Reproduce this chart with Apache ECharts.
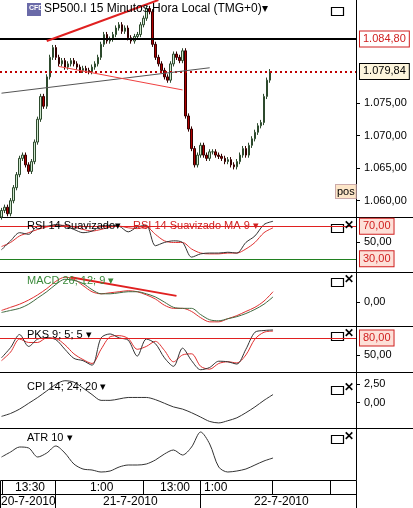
<!DOCTYPE html>
<html><head><meta charset="utf-8">
<script src="https://cdn.jsdelivr.net/npm/echarts@6/dist/echarts.min.js"></script>
<style>html,body{margin:0;padding:0;background:#fff}#c{width:413px;height:508px}</style>
</head><body><div id="c"></div>
<script>
const closes=[1058.5,1059,1058,1060,1062,1064,1066.5,1067,1065.5,1064.5,1066,1069,1072.5,1076,1074.5,1079,1082,1083.5,1082,1081,1081.5,1080.5,1081,1081.5,1081,1080.5,1080,1080.3,1080,1079.8,1080.5,1081,1082,1084,1085.5,1084.5,1084.8,1085.5,1086.5,1087,1086,1086.5,1085,1084.5,1085.2,1085.5,1087,1088,1089.5,1089,1084,1082,1081,1080,1079,1078.5,1081,1082.5,1082,1081.5,1083,1073,1071,1068,1065.5,1067,1068.5,1067,1066.5,1067.5,1067.5,1067,1066.8,1066.5,1066,1066.3,1065.5,1065.2,1066,1067,1068,1067,1068.5,1069.5,1070.5,1071.5,1072,1076,1078.5,1079.8];
const firstOpen=1057.5;
const rsiK=[41,52,62,60,70,70,72,70,66,62,64,70,71,70,63,69,71,46,50,52,50,32,36,37,37,38,37,50,58,72,76];
const rsiMA=[45,50,58,62,66,69,71,71,69,66,64,66,69,70,68,67,69,60,52,50,50,42,37,36,36,37,37,42,50,62,68];
const macdA=[-10,-8,-6,-2,4,10,17,22,21,18,12,8,8,9,10,10,8,5,0,-5,-6,-6,-12,-17,-18,-16,-14,-11,-7,-2,5];
const macdB=[-8,-5,-2,2,7,13,20,24,22,16,10,8,9,10,11,10,7,3,-3,-6,-6,-9,-15,-19,-19,-16,-13,-9,-5,1,10];
const pksK=[45,63,86,65,78,80,77,60,44,40,32,80,87,80,76,48,78,70,45,30,62,40,24,28,39,38,34,60,90,93,94];
const pksD=[40,55,78,72,72,80,79,68,52,42,35,60,82,84,79,60,65,74,58,38,50,52,30,25,35,38,36,50,78,90,92];
const cpi=[-1.9,-1.5,-0.9,-0.1,0.7,1.6,2.5,3.0,2.8,2.0,1.1,0.3,0.3,0.5,0.7,0.7,0.7,0.4,-0.1,-0.6,-0.9,-1.4,-2.0,-2.6,-2.8,-2.5,-2.1,-1.4,-0.6,0.3,1.1];
const atr=[22,27,32,31,22,26,33,26,15,10,9,7,8,12,14,14,15,19,25,29,24,32,47,35,12,7,8,10,14,18,21];
const priceTicks=[1060,1065,1070,1075];
const N=118, STEP=3;
const cats=[];for(let i=0;i<N;i++)cats.push(i);
const ohlc=closes.map((c,i)=>{const o=i?closes[i-1]:firstOpen;return [o,c,Math.min(o,c)-0.4,Math.max(o,c)+0.4];});
const pts=a=>a.map((v,k)=>[k*STEP,v]);
const fmt=v=>{const s=Math.abs(v).toFixed(2).split('.');s[0]=s[0].replace(/\B(?=(\d{3})+(?!\d))/g,'.');return (v<0?'-':'')+s[0]+','+s[1];};
const FONT='Liberation Sans';
const tops=[0,217,272,326,372,428], hs=[217,55,54,46,56,52];
const grids=tops.map((t,i)=>({left:0,width:356,top:t,height:hs[i],show:false}));
const xAxes=tops.map((t,i)=>({type:'category',gridIndex:i,data:cats,boundaryGap:true,axisLine:{show:false},axisTick:{show:false},axisLabel:{show:false},splitLine:{show:false}}));
function yax(i,min,max,custom){return {type:'value',gridIndex:i,position:'right',min,max,axisLine:{show:true,lineStyle:{color:'#000'}},axisTick:{show:true,length:4,lineStyle:{color:'#000'},customValues:custom},minorTick:{show:false},splitLine:{show:false},axisLabel:{show:true,customValues:custom,fontFamily:FONT,fontSize:11,color:'#000',margin:8,formatter:v=>fmt(v)}};}
const yAxes=[yax(0,1057.5,1090.8,priceTicks),yax(1,13.75,81.25,[50]),yax(2,-23,29,[0]),yax(3,20,101,[50]),yax(4,-3.5,4.2,[2.5,0]),yax(5,-1,51,[])];
const boxLbl=(txt,c,bg,bc)=>({show:true,position:'end',distance:4,formatter:txt,color:c,backgroundColor:bg,borderColor:bc,borderWidth:1,padding:[2,3],fontFamily:FONT,fontSize:11});
const line=(i,data,color,w)=>({type:'line',xAxisIndex:i,yAxisIndex:i,data:pts(data),showSymbol:false,smooth:0.3,lineStyle:{color,width:w||1},silent:true});
const series=[
{type:'candlestick',xAxisIndex:0,yAxisIndex:0,data:ohlc,barWidth:2,itemStyle:{color:'#cfe8cf',color0:'#b00000',borderColor:'#2d4a2d',borderColor0:'#300',borderWidth:1},
 markLine:{symbol:'none',silent:true,data:[
  {yAxis:1084.8,lineStyle:{color:'#000',width:2,type:'solid'},label:boxLbl('1.084,80','#d02020','#fff','#d02020')},
  {yAxis:1079.84,lineStyle:{color:'#c00000',width:2,type:[2,3]},label:boxLbl('1.079,84','#000','#fdf5dc','#000')},
  [{coord:[15,1084.5],lineStyle:{color:'#e02020',width:2,type:'solid'},label:{show:false}},{coord:[52,1090.8]}],
  [{coord:[0,1076.5],lineStyle:{color:'#555',width:1,type:'solid'},label:{show:false}},{coord:[69,1080.4]}],
  [{coord:[19,1080.6],lineStyle:{color:'#f04040',width:1,type:'solid'},label:{show:false}},{coord:[60,1077]}]
 ]}},
{...line(1,rsiMA,'#e03030'),markLine:{symbol:'none',silent:true,data:[
  {yAxis:70,lineStyle:{color:'#e02020',width:1,type:'solid'},label:boxLbl('70,00','#d02020','#fde0d8','#d02020')},
  {yAxis:30,lineStyle:{color:'#208020',width:1,type:'solid'},label:boxLbl('30,00','#d02020','#fde0d8','#d02020')}]}},
line(1,rsiK,'#333'),
line(2,macdB,'#e03030'),
{...line(2,macdA,'#406a40'),markLine:{symbol:'none',silent:true,data:[[{coord:[23,24],lineStyle:{color:'#e02020',width:2,type:'solid'},label:{show:false}},{coord:[58,6]}]]}},
{...line(3,pksD,'#e03030'),markLine:{symbol:'none',silent:true,data:[{yAxis:80,lineStyle:{color:'#e02020',width:1,type:'solid'},label:boxLbl('80,00','#d02020','#fde0d8','#d02020')}]}},
line(3,pksK,'#333'),
line(4,cpi,'#333'),
line(5,atr,'#333')
];
const T=(x,y,t,c,extra)=>({type:'text',left:x,top:y,z:10,style:Object.assign({text:t,fill:c||'#000',font:'11px '+FONT},extra||{})});
const ttl=[['SP500.I 15 Minutos Hora Local (TMG+0)▾',3,'#000'],['RSI 14 Suavizado▾',220,'#000'],['MACD 26; 12; 9 ▾',275,'#3a8a3a'],['PKS 9; 5; 5 ▾',329,'#000'],['CPI 14; 24; 20 ▾',381,'#000'],['ATR 10 ▾',432,'#000']];
const gr=[];
ttl.forEach(([t,y,c],i)=>{gr.push(T(i==0?44:27,y,t,c,{font:(i==0?'12px ':'11px ')+FONT}));});
gr.push(T(133,220,'RSI 14 Suavizado MA 9 ▾','#d02020'));
gr.push({type:'rect',left:27,top:3,shape:{width:14,height:13},style:{fill:'#6a6aa8'}});
gr.push(T(29,5,'CFD','#fff',{font:'bold 7px '+FONT}));
[5,222,276,330,384,433].forEach((y,i)=>{gr.push({type:'rect',left:329,top:y,shape:{width:12,height:8},style:{fill:'none',stroke:'#000',lineWidth:1.2}});if(i>0)gr.push(T(344,y-2,'✕','#000',{font:'bold 12px '+FONT}));});
gr.push(T(335,184,'pos','#000',{backgroundColor:'#fde6c8',borderColor:'#caa',borderWidth:1,padding:[1,1]}));
[217,272,326,372,428].forEach(y=>gr.push({type:'line',shape:{x1:0,y1:y+0.5,x2:413,y2:y+0.5},style:{stroke:'#000',lineWidth:1}}));
gr.push({type:'rect',left:0,top:480,shape:{width:356,height:28},style:{fill:'#fff',stroke:'#000',lineWidth:1}});
gr.push({type:'line',shape:{x1:0,y1:494.5,x2:356,y2:494.5},style:{stroke:'#000'}});
[[2,480,494],[55,480,494],[143,480,494],[200,480,508],[272,480,494],[330,480,494],[55,494,508]].forEach(([x,a,b])=>gr.push({type:'line',shape:{x1:x+0.5,y1:a,x2:x+0.5,y2:b},style:{stroke:'#000'}}));
[['13:30',15,482],['1:00',90,482],['13:00',160,482],['1:00',204,482],['20-7-2010',1,496],['21-7-2010',103,496],['22-7-2010',254,496]].forEach(([t,x,y])=>gr.push(T(x,y,t,'#000',{font:'12px '+FONT})));
const ch=echarts.init(document.getElementById('c'),null,{renderer:'canvas'});
ch.setOption({animation:false,backgroundColor:'#fff',grid:grids,xAxis:xAxes,yAxis:yAxes,series,graphic:gr});
</script></body></html>
